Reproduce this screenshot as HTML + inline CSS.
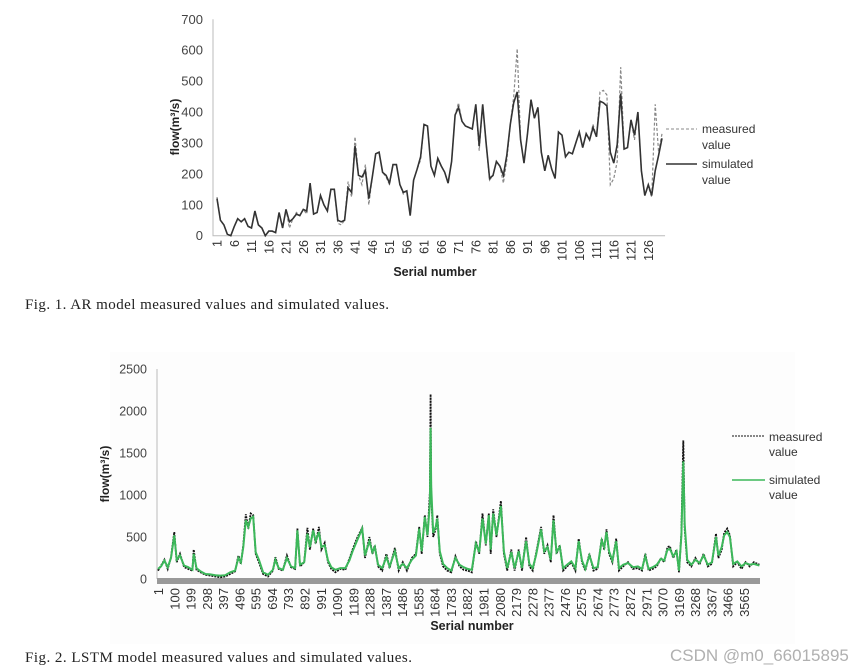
<!DOCTYPE html>
<html><head><meta charset="utf-8"><style>
html,body{margin:0;padding:0;background:#fff;width:861px;height:672px;overflow:hidden}
svg{display:block;font-family:"Liberation Sans",sans-serif}
.cap{font-family:"Liberation Serif",serif;font-size:15px;fill:#222}
</style></head><body>
<svg id="svg" width="861" height="672" viewBox="0 0 861 672">
<rect x="110" y="352" width="685" height="292" fill="#fdfdfd"/>
<g id="c1"></g>
<g id="c2"></g>
<text class="cap" x="25" y="309" textLength="364">Fig. 1. AR model measured values and simulated values.</text>
<text class="cap" x="25" y="662" textLength="387">Fig. 2. LSTM model measured values and simulated values.</text>
<text x="670" y="661" font-size="17" fill="#b0b0b0">CSDN @m0_66015895</text>
</svg>
<script>
// ---------- Chart 1 data ----------
const c1Sim = [120,50,35,5,0,30,55,45,55,30,25,80,35,25,0,15,15,10,75,25,85,45,55,70,65,85,80,170,70,75,130,100,80,150,150,50,45,50,155,140,290,195,190,210,120,190,265,270,205,195,170,230,230,165,140,145,65,180,215,255,360,355,225,195,250,225,205,170,240,390,415,370,355,350,345,425,290,425,300,185,195,240,225,195,260,360,430,465,310,235,330,440,380,415,270,210,260,215,185,335,325,255,270,265,300,335,285,330,310,350,320,435,430,420,270,235,295,460,280,285,375,325,400,210,130,165,130,210,260,315];
const c1Meas = [125,50,35,5,0,30,55,45,55,30,25,80,35,25,0,15,15,10,75,25,85,25,55,75,65,85,70,170,70,75,130,100,80,150,150,40,35,50,175,125,320,195,165,230,100,190,265,270,205,190,165,230,230,165,135,145,65,180,215,245,360,355,225,195,250,225,205,170,240,390,430,370,355,350,345,425,275,425,300,180,195,240,225,170,245,360,450,605,310,235,330,440,380,415,270,210,260,215,185,335,325,255,270,265,300,335,285,330,310,360,320,465,470,455,165,185,240,545,280,285,375,310,400,210,130,160,125,425,270,330];
const c1YTicks = [0,100,200,300,400,500,600,700];
// ---------- Chart 2 data ----------
const c2Idx = [1,20,40,60,80,100,115,135,160,185,210,218,235,260,290,320,350,380,410,440,470,490,505,520,535,550,565,580,595,615,640,670,700,715,735,760,785,810,835,849,865,890,910,925,945,960,980,995,1015,1035,1055,1080,1110,1140,1165,1185,1210,1243,1260,1287,1305,1320,1340,1365,1390,1410,1442,1465,1490,1515,1545,1570,1590,1605,1624,1640,1655,1659,1663,1675,1690,1700,1715,1735,1760,1785,1810,1835,1860,1885,1910,1935,1955,1975,1995,2013,2025,2040,2060,2087,2105,2125,2150,2170,2195,2215,2240,2260,2280,2300,2331,2350,2370,2390,2407,2425,2445,2465,2490,2515,2540,2560,2580,2600,2625,2650,2675,2700,2715,2729,2745,2765,2788,2805,2830,2860,2890,2920,2945,2965,2985,3010,3035,3060,3080,3100,3115,3135,3155,3170,3185,3196,3205,3220,3245,3270,3295,3320,3345,3370,3395,3410,3430,3445,3463,3480,3500,3525,3550,3575,3600,3625,3659];
const c2Meas = [100,160,230,120,260,560,200,300,140,120,100,350,110,80,50,40,30,20,30,60,90,280,180,400,770,600,780,760,300,200,60,30,100,260,120,100,280,140,120,600,150,200,610,350,600,420,620,350,430,200,120,80,120,110,240,350,480,610,250,500,300,400,150,100,300,130,370,100,200,100,250,300,620,300,760,500,1040,2200,1000,500,600,760,300,150,100,80,270,150,110,100,80,450,300,780,400,780,300,830,500,930,300,100,350,100,350,100,500,150,100,300,620,300,400,200,760,300,400,100,150,200,100,480,200,100,300,100,120,480,350,590,300,200,480,100,150,200,120,130,100,300,100,120,150,250,200,380,390,250,350,80,550,1650,600,200,150,250,170,300,150,180,540,250,350,550,600,520,150,200,120,200,150,200,170];
const c2Sim = [120,150,220,140,250,520,230,280,160,140,110,300,130,90,60,55,45,40,45,80,100,250,200,380,700,620,720,740,320,230,80,50,110,230,130,110,250,150,130,580,170,200,540,380,580,450,560,380,400,220,140,110,130,130,220,330,450,600,280,450,320,380,170,130,260,150,330,130,180,130,230,280,600,330,740,520,900,1800,1100,550,620,720,330,180,130,100,250,170,140,120,110,420,320,720,420,760,350,780,520,870,330,130,320,130,330,130,450,180,130,280,590,330,380,230,700,320,380,130,170,210,130,450,220,120,280,130,140,460,380,560,330,220,450,130,170,190,140,150,120,270,120,140,170,240,220,350,360,270,330,100,520,1400,650,230,170,230,190,280,170,200,500,280,380,520,560,500,180,210,150,190,170,180,160];
const c2YTicks = [0,500,1000,1500,2000,2500];

const NS="http://www.w3.org/2000/svg";
function mk(parent,tag,attrs,text){const e=document.createElementNS(NS,tag);for(const k in attrs)e.setAttribute(k,attrs[k]);if(text!==undefined)e.textContent=text;parent.appendChild(e);return e;}

// ---------- Chart 1 ----------
(function(){
  const g=document.getElementById('c1');
  const x0=217,dx=3.45,yb=235.7,yt=19.3,ymax=700;
  const X=i=>x0+i*dx, Y=v=>yb-(v/ymax)*(yb-yt);
  for(const t of c1YTicks){
    const el=mk(g,'text',{x:203,y:Y(t)+4.5,'text-anchor':'end','font-size':13,fill:'#444'},String(t));
    
    
  }
  const ax=mk(g,'path',{d:`M213,${yt} V${yb} H${X(c1Sim.length-1)+3}`,stroke:'#bbb',fill:'none'});
  
  
  for(let i=0;i<c1Sim.length;i+=5){
    const t=mk(g,'text',{transform:`translate(${X(i)+4.5},240) rotate(-90)`,'text-anchor':'end','font-size':12.5,fill:'#333'},String(i+1));
    
    
  }
  const pm=c1Meas.map((v,i)=>(i?'L':'M')+X(i).toFixed(1)+','+Y(v).toFixed(1)).join('');
  const ps=c1Sim.map((v,i)=>(i?'L':'M')+X(i).toFixed(1)+','+Y(v).toFixed(1)).join('');
  const lm=mk(g,'path',{d:pm,stroke:'#888',fill:'none','stroke-width':1.2,'stroke-dasharray':'3,2'});
  
  
  const ls=mk(g,'path',{d:ps,stroke:'#333',fill:'none','stroke-width':1.6});
  
  
  const yt1=mk(g,'text',{transform:'translate(179,127) rotate(-90)','text-anchor':'middle','font-size':12,'font-weight':'bold',fill:'#222'},'flow(m³/s)');
  
  
  const xt1=mk(g,'text',{x:435,y:276,'text-anchor':'middle','font-size':12.5,'font-weight':'bold',fill:'#222'},'Serial number');
  
  
  const l1=mk(g,'line',{x1:666,y1:129,x2:697,y2:129,stroke:'#888','stroke-dasharray':'3,2'});
  
  
  const t1=mk(g,'text',{x:702,y:133,'font-size':12,fill:'#333'},'measured');
  
  
  mk(g,'text',{x:702,y:149,'font-size':12,fill:'#333'},'value');
  const l2=mk(g,'line',{x1:666,y1:164,x2:697,y2:164,stroke:'#333','stroke-width':1.6});
  
  
  const t2=mk(g,'text',{x:702,y:168,'font-size':12,fill:'#333'},'simulated');
  
  
  mk(g,'text',{x:702,y:184,'font-size':12,fill:'#333'},'value');
})();

// ---------- Chart 2 ----------
(function(){
  const g=document.getElementById('c2');
  const x0=158,dx=0.1644,yb=579,yt=369,ymax=2500;
  const X=i=>x0+(i-1)*dx, Y=v=>yb-(v/ymax)*(yb-yt);
  for(const t of c2YTicks){
    const el=mk(g,'text',{x:147,y:Y(t)+4.5,'text-anchor':'end','font-size':12.5,fill:'#444'},String(t));
    
    
  }
  const ax=mk(g,'line',{x1:157,y1:yt,x2:157,y2:yb,stroke:'#bbb'});
  
  
  const band=mk(g,'rect',{x:157,y:578,width:603,height:6,fill:'#999'});
  
  
  for(let i=1;i<=3565;i+=99){
    const t=mk(g,'text',{transform:`translate(${X(i)+5},588) rotate(-90)`,'text-anchor':'end','font-size':13,fill:'#333'},String(i));
    
    
  }
  const pm=c2Idx.map((k,i)=>(i?'L':'M')+X(k).toFixed(1)+','+Y(c2Meas[i]).toFixed(1)).join('');
  const ps=c2Idx.map((k,i)=>(i?'L':'M')+X(k).toFixed(1)+','+Y(c2Sim[i]).toFixed(1)).join('');
  const lm=mk(g,'path',{d:pm,stroke:'#111',fill:'none','stroke-width':1.8,'stroke-dasharray':'2,1'});
  
  
  const ls=mk(g,'path',{d:ps,stroke:'#3cb85a',fill:'none','stroke-width':2});
  
  
  const yt2=mk(g,'text',{transform:'translate(109,474) rotate(-90)','text-anchor':'middle','font-size':12,'font-weight':'bold',fill:'#222'},'flow(m³/s)');
  
  
  const xt2=mk(g,'text',{x:472,y:630,'text-anchor':'middle','font-size':12.5,'font-weight':'bold',fill:'#222'},'Serial number');
  
  
  const l1=mk(g,'line',{x1:732,y1:436,x2:765,y2:436,stroke:'#111','stroke-dasharray':'2,1'});
  
  
  const t1=mk(g,'text',{x:769,y:441,'font-size':12,fill:'#333'},'measured');
  
  
  mk(g,'text',{x:769,y:456,'font-size':12,fill:'#333'},'value');
  const l2=mk(g,'line',{x1:732,y1:480,x2:765,y2:480,stroke:'#3cb85a','stroke-width':1.4});
  
  
  const t2=mk(g,'text',{x:769,y:484,'font-size':12,fill:'#333'},'simulated');
  
  
  mk(g,'text',{x:769,y:499,'font-size':12,fill:'#333'},'value');
})();
</script>
</body></html>
